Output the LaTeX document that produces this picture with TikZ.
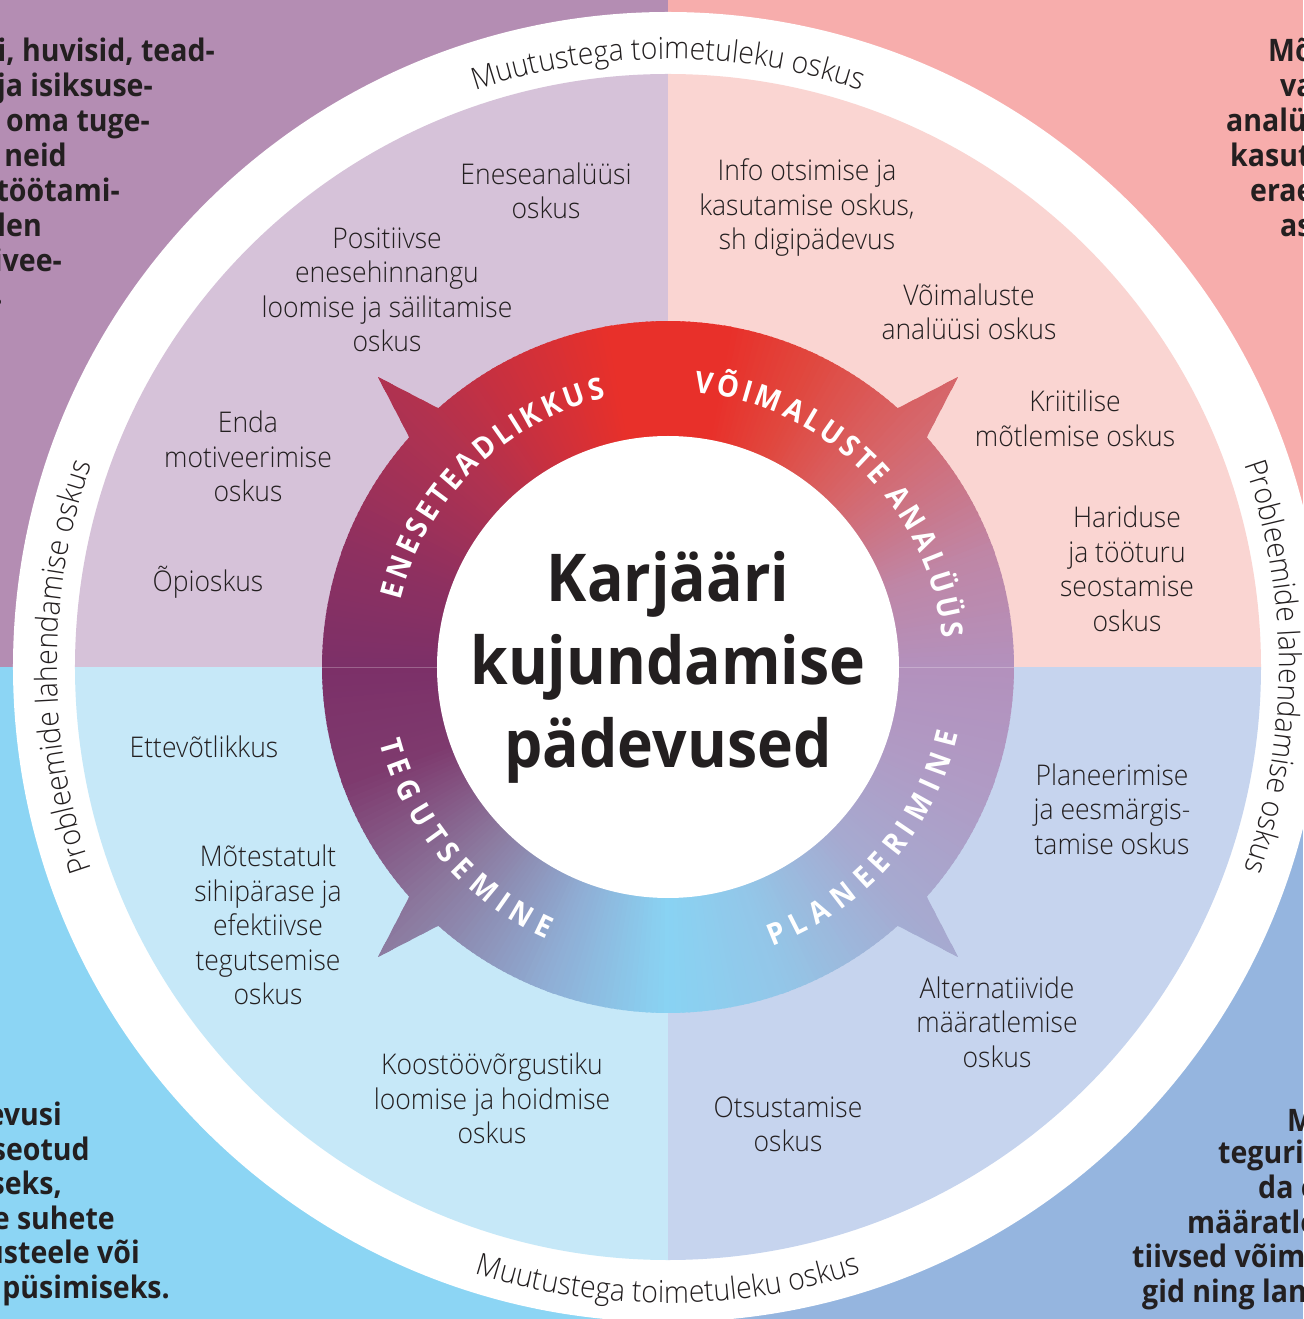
\documentclass[tikz,border=0pt]{standalone}
\usepackage{fontspec}
\usetikzlibrary{decorations.text}
\IfFontExistsTF{Open Sans Light}
  {\newfontfamily\lightf[FakeStretch=0.93]{Open Sans Light}}
  {\newfontfamily\lightf[FakeStretch=0.93]{Open Sans}}
\newfontfamily\boldbase[FakeStretch=0.92]{Open Sans}
\newcommand\qfont{\lightf\fontsize{28.5}{34.5}\selectfont}
\newcommand\mfont{\lightf\fontsize{30.5}{34}\selectfont}
\newcommand\ofont{\boldbase\bfseries\fontsize{31}{35}\selectfont}
\newcommand\cfont{\boldbase\bfseries\fontsize{66}{83}\selectfont}
\newcommand\rfont{\boldbase\bfseries\fontsize{30}{32}\selectfont}
\definecolor{ink}{HTML}{231F20}
\definecolor{bgTL}{HTML}{B48DB3}
\definecolor{bgTR}{HTML}{F7ADAC}
\definecolor{bgBL}{HTML}{8CD5F4}
\definecolor{bgBR}{HTML}{95B5DF}
\definecolor{inTL}{HTML}{D6C2D9}
\definecolor{inTR}{HTML}{FAD5D2}
\definecolor{inBL}{HTML}{C6E8F8}
\definecolor{inBR}{HTML}{C6D4EE}
\definecolor{ca}{HTML}{B391BD}
\definecolor{cb}{HTML}{BF86A6}
\definecolor{cc}{HTML}{D6666A}
\definecolor{cd}{HTML}{E0483F}
\definecolor{ce}{HTML}{E8302A}
\definecolor{cf}{HTML}{E8302A}
\definecolor{cg}{HTML}{C9303F}
\definecolor{ch}{HTML}{B03250}
\definecolor{ci}{HTML}{8E3060}
\definecolor{cj}{HTML}{7C3068}
\definecolor{ck}{HTML}{7E3A6E}
\definecolor{cl}{HTML}{8C7BA0}
\definecolor{cm}{HTML}{8FAFD6}
\definecolor{cn}{HTML}{89D3F3}
\definecolor{co}{HTML}{93C6E8}
\definecolor{cp}{HTML}{A6AAD0}
\definecolor{cq}{HTML}{B09AC4}
\tikzset{
  qtext/.style={font=\qfont, text=ink, align=center, inner sep=0pt},
  otext/.style={font=\ofont, text=ink, inner sep=0pt},
  oleft/.style={otext, anchor=base east},
  oright/.style={otext, anchor=base west},
  cwtext/.style={decorate, decoration={text along path, text align=center, text color=ink}},
  ringlabel/.style={decorate, decoration={text effects along path, text={#1},
      text effects/.cd, text along path, fit text to path,
      characters={text=white, font=\rfont}}}
}
\begin{document}
\begin{tikzpicture}[x=1pt,y=1pt]
\useasboundingbox (-668,-652) rectangle (635,667);
\clip (-668,-652) rectangle (635,667);
% outer quadrants
\fill[bgTL] (-668,0) rectangle (0,667);
\fill[bgTR] (0,0) rectangle (635,667);
\fill[bgBL] (-668,-652) rectangle (0,0);
\fill[bgBR] (0,-652) rectangle (635,0);
\fill[white] (0,0) circle[radius=655pt];
\begin{scope}
  \clip (0,0) circle[radius=593pt];
  \fill[inTL] (-600,0) rectangle (0,600);
  \fill[inTR] (0,0) rectangle (600,600);
  \fill[inBL] (-600,-600) rectangle (0,0);
  \fill[inBR] (0,-600) rectangle (600,0);
\end{scope}
% ring with spikes, conic gradient
\begin{scope}
  \clip (48.4:346pt) arc[start angle=48.4,end angle=131.6,radius=346pt] -- (135:410pt)
     -- (138.4:346pt) arc[start angle=138.4,end angle=221.6,radius=346pt] -- (225:410pt)
     -- (228.4:346pt) arc[start angle=228.4,end angle=311.6,radius=346pt] -- (315:410pt)
     -- (318.4:346pt) arc[start angle=318.4,end angle=401.6,radius=346pt] -- (45:410pt) -- cycle;
  \foreach \s/\e/\ca/\cb in {0/20/ca/cb,20/45/cb/cc,45/65/cc/cd,65/80/cd/ce,80/100/ce/cf,
      100/120/cf/cg,120/135/cg/ch,135/160/ch/ci,160/180/ci/cj,180/200/cj/ck,200/225/ck/cl,
      225/250/cl/cm,250/270/cm/cn,270/290/cn/co,290/315/co/cp,315/340/cp/cq,340/360/cq/ca}{
    \foreach \a in {\s,...,\e}{
      \pgfmathtruncatemacro\p{100*(\e-\a)/(\e-\s)}
      \fill[\ca!\p!\cb] (0,0) -- (\a-0.7:420pt) -- (\a+0.7:420pt) -- cycle;
    }
  }
\end{scope}
\draw[white, opacity=0.25, line width=0.8pt] (-346,0) -- (-231,0) (231,0) -- (346,0);
\fill[white] (0,0) circle[radius=231pt];
% centre title
\node[font=\cfont, text=ink, align=center, inner sep=0pt] (title) at (0,0) {Karjääri\\kujundamise\\pädevused};
% ring labels
\path[ringlabel={ENESETEADLIKKUS}] (166:276pt) arc[start angle=166,end angle=103,radius=276pt];
\path[ringlabel={VÕIMALUSTE ANALÜÜS}] (84.6:276pt) arc[start angle=84.6,end angle=6,radius=276pt];
\path[ringlabel={TEGUTSEMINE}] (194.6:298pt) arc[start angle=194.6,end angle=246,radius=298pt];
\path[ringlabel={PLANEERIMINE}] (290.5:298pt) arc[start angle=290.5,end angle=347,radius=298pt];
% white band texts
\path[cwtext, decoration={text={|\mfont|Muutustega toimetuleku oskus}}] (130:608pt) arc[start angle=130,end angle=50,radius=608pt];
\path[cwtext, decoration={text={|\mfont|Muutustega toimetuleku oskus}}] (230:636pt) arc[start angle=230,end angle=310,radius=636pt];
\path[cwtext, decoration={text={|\mfont|Probleemide lahendamise oskus}}] (220:611pt) arc[start angle=220,end angle=140,radius=611pt];
\path[cwtext, decoration={text={|\mfont|Probleemide lahendamise oskus}}] (40:611pt) arc[start angle=40,end angle=-40,radius=611pt];
% quadrant texts
\node[qtext] (q1) at (-122,476) {Eneseanalüüsi\\oskus};
\node[qtext] (q2) at (-281,377) {Positiivse\\enesehinnangu\\loomise ja säilitamise\\oskus};
\node[qtext] (q3) at (-420,210.5) {Enda\\motiveerimise\\oskus};
\node[qtext] (q4) at (-460,85) {Õpioskus};
\node[qtext] (q5) at (139,459) {Info otsimise ja\\kasutamise oskus,\\sh digipädevus};
\node[qtext] (q6) at (301,355) {Võimaluste\\analüüsi oskus};
\node[qtext] (q7) at (407,248.5) {Kriitilise\\mõtlemise oskus};
\node[qtext] (q8) at (459,98) {Hariduse\\ja tööturu\\seostamise\\oskus};
\node[qtext] (q9) at (-464,-80) {Ettevõtlikkus};
\node[qtext] (q10) at (-400,-258) {Mõtestatult\\sihipärase ja\\efektiivse\\tegutsemise\\oskus};
\node[qtext] (q11) at (-176,-431.5) {Koostöövõrgustiku\\loomise ja hoidmise\\oskus};
\node[qtext] (q12) at (444,-142) {Planeerimise\\ja eesmärgis-\\tamise oskus};
\node[qtext] (q13) at (329,-355) {Alternatiivide\\määratlemise\\oskus};
\node[qtext] (q14) at (120,-457.5) {Otsustamise\\oskus};
% outer corner texts (cropped)
\node[oleft] (a1) at (-453,605) {i, huvisid, tead-};
\node[oleft] (a2) at (-515,570) {ja isiksuse-};
\node[oleft] (a3) at (-518,535) {oma tuge-};
\node[oleft] (a4) at (-601,500) {neid};
\node[oleft] (a5) at (-548,465) {töötami-};
\node[oleft] (a6) at (-626,430) {len};
\node[oleft] (a7) at (-606,395) {ivee-};
\node[oleft] (a8) at (-665,362) {.};
\node[oright] (b1) at (600,605) {Mõ};
\node[oright] (b2) at (612,570) {va};
\node[oright] (b3) at (558,535) {analü};
\node[oright] (b4) at (562,500) {kasut};
\node[oright] (b5) at (582,465) {erae};
\node[oright] (b6) at (612,430) {as};
\node[oleft] (c1) at (-606,-458) {evusi};
\node[oleft] (c2) at (-578,-493) {seotud};
\node[oleft] (c3) at (-606,-527) {seks,};
\node[oleft] (c4) at (-553,-562) {e suhete};
\node[oleft] (c5) at (-528,-596) {usteele või};
\node[oleft] (c6) at (-498,-631) {püsimiseks.};
\node[oright] (d1) at (619,-464) {M};
\node[oright] (d2) at (550,-496) {teguri};
\node[oright] (d3) at (590,-531) {da e};
\node[oright] (d4) at (519,-566) {määratle};
\node[oright] (d5) at (464,-600) {tiivsed võim};
\node[oright] (d6) at (474,-635) {gid ning lan};
\end{tikzpicture}
\end{document}
